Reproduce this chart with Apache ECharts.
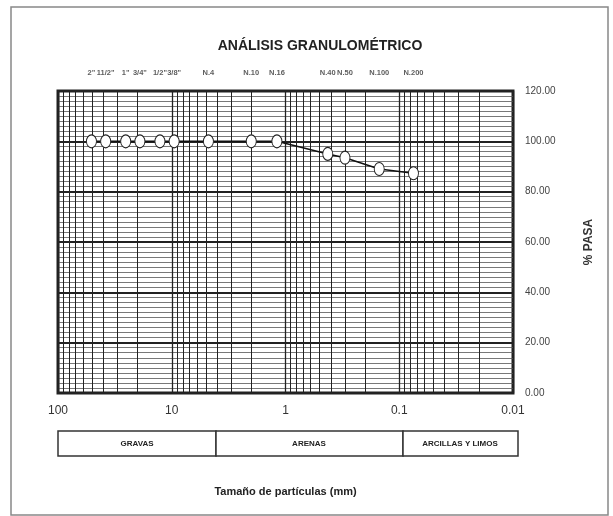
<!DOCTYPE html>
<html><head><meta charset="utf-8">
<script src="https://cdn.jsdelivr.net/npm/echarts@6/dist/echarts.min.js"></script>
<style>html,body{margin:0;padding:0;background:#fff}#c{width:613px;height:516px}</style>
</head><body><div id="c"></div>
<script>
const sieveLabels = ['2"', '11/2"', '1"', '3/4"', '1/2"', '3/8"', 'N.4', 'N.10', 'N.16', 'N.40', 'N.50', 'N.100', 'N.200'];
const sieveSizes = [50.8, 38.1, 25.4, 19.05, 12.7, 9.525, 4.76, 2.0, 1.19, 0.425, 0.3, 0.15, 0.075];
const passing = [100, 100, 100, 100, 100, 100, 100, 100, 100, 95.0, 93.5, 89.0, 87.3];
const xTickLabels = ['100', '10', '1', '0.1', '0.01'];
const yTicks = [0, 20, 40, 60, 80, 100, 120];
const zones = ['GRAVAS', 'ARENAS', 'ARCILLAS Y LIMOS'];

const font = '"Liberation Sans Narrow", "Liberation Sans", Arial, sans-serif';
const minorX = [];
[0.01, 0.1, 1, 10].forEach(d => { for (let k = 2; k <= 9; k++) minorX.push(+(d * k).toPrecision(6)); });

const chart = echarts.init(document.getElementById('c'));
chart.setOption({
  animation: false,
  title: { text: 'ANÁLISIS GRANULOMÉTRICO', left: 315, top: 34, textAlign: 'center',
    textStyle: { fontFamily: font, fontSize: 14, fontWeight: 'bold', color: '#222' } },
  grid: { left: 58, right: 100, top: 91, bottom: 123, show: true, borderColor: '#222', borderWidth: 3, backgroundColor: 'transparent' },
  xAxis: {
    type: 'log', logBase: 10, min: 0.01, max: 100, inverse: true,
    name: 'Tamaño de partículas (mm)', nameLocation: 'middle', nameGap: 93,
    nameTextStyle: { fontFamily: font, fontSize: 11, fontWeight: 'bold', color: '#222' },
    axisLine: { show: false }, axisTick: { show: false },
    axisLabel: { fontFamily: font, fontSize: 12, color: '#333', margin: 12,
      formatter: v => { const i = Math.round(2 - Math.log10(v)); return xTickLabels[i] || ''; } },
    splitLine: { show: true, lineStyle: { color: '#222', width: 1.3 } }
  },
  yAxis: {
    type: 'value', position: 'right', min: 0, max: 120, interval: 20,
    name: '% PASA', nameLocation: 'middle', nameGap: 70, nameRotate: 90,
    nameTextStyle: { fontFamily: font, fontSize: 12, fontWeight: 'bold', color: '#333' },
    axisLine: { show: false }, axisTick: { show: false },
    axisLabel: { fontFamily: font, fontSize: 10, color: '#444', margin: 12, formatter: v => yTicks.includes(v) ? v.toFixed(2) : '' },
    splitLine: { show: true, lineStyle: { color: '#222', width: 2.2 } },
    minorTick: { show: false, splitNumber: 10 },
    minorSplitLine: { show: true, lineStyle: { color: '#555', width: 0.8 } }
  },
  series: [
    {
      type: 'line', data: [], silent: true,
      markLine: { silent: true, symbol: 'none', label: { show: false },
        lineStyle: { color: '#222', width: 1, type: 'solid' },
        data: minorX.map(v => ({ xAxis: v })) }
    },
    {
      type: 'line', data: sieveSizes.map((s, i) => [s, passing[i]]),
      symbol: 'circle', symbolSize: [10, 13], showSymbol: true,
      lineStyle: { color: '#111', width: 1.5 },
      itemStyle: { color: '#fff', borderColor: '#222', borderWidth: 1 },
      z: 5
    },
    {
      type: 'scatter', symbolSize: 0, clip: false, silent: true,
      data: sieveSizes.map((s, i) => ({ value: [s, 120], name: sieveLabels[i] })),
      label: { show: true, position: 'top', distance: 14, formatter: p => p.name,
        fontFamily: font, fontSize: 7.5, fontWeight: 'bold', color: '#333' }
    }
  ],
  graphic: [
    { type: 'rect', shape: { x: 11, y: 7, width: 597, height: 508 }, style: { fill: 'none', stroke: '#888', lineWidth: 1.5 } },
    { type: 'rect', shape: { x: 58, y: 431, width: 158, height: 25 }, style: { fill: '#fff', stroke: '#333', lineWidth: 1.5 } },
    { type: 'rect', shape: { x: 216, y: 431, width: 187, height: 25 }, style: { fill: '#fff', stroke: '#333', lineWidth: 1.5 } },
    { type: 'rect', shape: { x: 403, y: 431, width: 115, height: 25 }, style: { fill: '#fff', stroke: '#333', lineWidth: 1.5 } },
    { type: 'text', x: 137, y: 444, style: { text: zones[0], font: 'bold 8px ' + font, fill: '#222', align: 'center', verticalAlign: 'middle' } },
    { type: 'text', x: 309, y: 444, style: { text: zones[1], font: 'bold 8px ' + font, fill: '#222', align: 'center', verticalAlign: 'middle' } },
    { type: 'text', x: 460, y: 444, style: { text: zones[2], font: 'bold 8px ' + font, fill: '#222', align: 'center', verticalAlign: 'middle' } }
  ]
});
</script></body></html>
